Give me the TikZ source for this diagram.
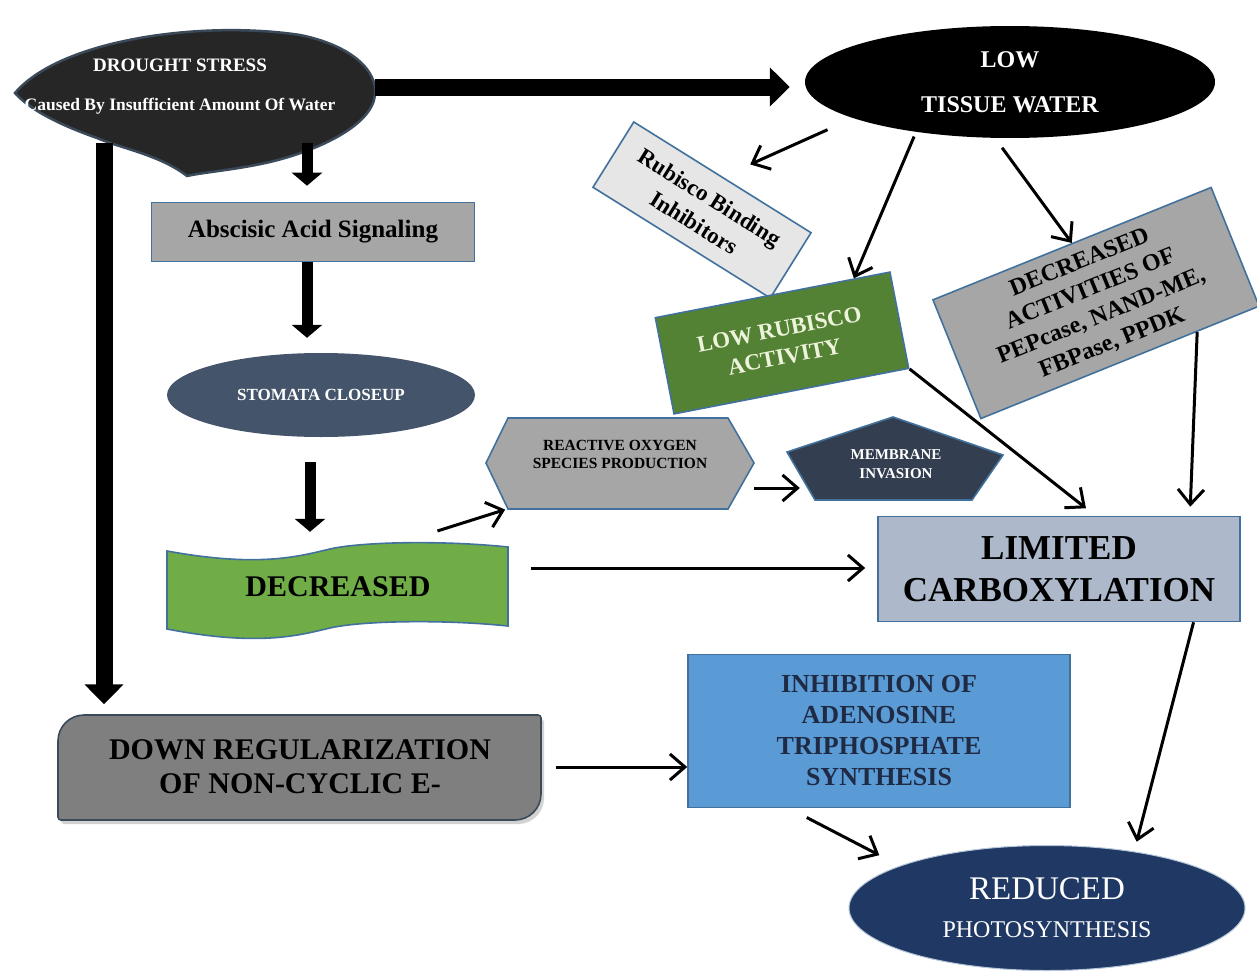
\documentclass[tikz,border=0pt]{standalone}
\usepackage{fontspec}
\setmainfont{Liberation Serif}
\usetikzlibrary{arrows.meta,calc,positioning,shapes.geometric,shadows}
\definecolor{dsink}{HTML}{000000}
\definecolor{dsblue}{HTML}{41719C}
\definecolor{dsedge}{HTML}{3B4A5A}
\definecolor{dsgrey}{HTML}{A6A6A6}
\definecolor{dsdark}{HTML}{262626}
\definecolor{dsslate}{HTML}{44546A}
\definecolor{dsgreen}{HTML}{70AD47}
\definecolor{dsleaf}{HTML}{548235}
\definecolor{dssky}{HTML}{5B9BD5}
\definecolor{dsnavy}{HTML}{203864}
\definecolor{dsmist}{HTML}{ADB9CA}
\definecolor{dsnight}{HTML}{333F50}
\definecolor{dspale}{HTML}{E7E6E6}
\definecolor{dsmid}{HTML}{7F7F7F}
\definecolor{dsdeep}{HTML}{1F2A44}
\definecolor{dscream}{HTML}{EEF3DC}
\newcommand\dssize[2]{\fontsize{#1}{#2}\selectfont}
\tikzset{
  ds plain/.style={inner sep=0pt, align=center},
  ds box/.style={ds plain, draw=dsblue, line width=1.6pt},
  ds oval/.style={ds plain, ellipse},
  ds shape/.style={draw=dsblue, line width=1.6pt},
  ds arrow/.style={-{Straight Barb[length=15pt,width=26pt]}, line width=3pt, draw=dsink},
  ds fat/.style={-{Triangle[length=20pt,width=38pt]}, line width=17pt, draw=dsink},
  ds stub/.style={-{Triangle[length=13pt,width=30pt]}, line width=11pt, draw=dsink}
}
\begin{document}
\begin{tikzpicture}[x=1pt, y=-1pt]
  \fill[white] (0,0) rectangle (1257,974);
  \useasboundingbox (0,0) rectangle (1257,974);
  \filldraw[fill=dsdark, draw=dsedge, line width=2.5pt] (15,93) .. controls (60,40) and (200,20) .. (300,35)
    .. controls (350,45) and (378,70) .. (375,95) .. controls (372,125) and (320,150) .. (270,162)
    .. controls (235,170) and (205,172) .. (187,176) .. controls (160,155) and (120,148) .. (97,138)
    .. controls (60,125) and (30,110) .. (15,93) -- cycle;
  \filldraw[ds shape, fill=dsgreen] (167,551) .. controls (260,568) and (300,556) .. (330,549)
    .. controls (360,542) and (440,540) .. (508,547) -- (508,626) .. controls (440,619) and (360,621) .. (330,628)
    .. controls (300,635) and (260,647) .. (167,629) -- cycle;
  \filldraw[ds shape, fill=dsgrey] (486,463) -- (508,418) -- (728,418) -- (754,463) -- (728,509) -- (508,509) -- cycle;
  \filldraw[ds shape, fill=dsnight] (787,452) -- (893,417) -- (1003,455) -- (972,500) -- (815,500) -- cycle;
  \filldraw[fill=dsmid, draw=dsedge, line width=1.6pt, drop shadow={shadow xshift=3pt, shadow yshift=-4pt, opacity=0.35}]
    (58,767) [rounded corners=26] |- (300,715) [rounded corners=3] -| (541,767)
    [rounded corners=26] |- (300,820) [rounded corners=3] -| (58,767) -- cycle;

  \node[ds plain, text=white, font=\bfseries\dssize{19}{39}, minimum width=390pt, minimum height=112pt] (drought) at (180,87)
    {DROUGHT STRESS\\\dssize{17.5}{39}Caused By Insufficient Amount Of Water};
  \node[ds oval, fill=black, text=white, font=\bfseries\dssize{24}{45}, minimum width=410pt, minimum height=112pt] (water) at (1010,82)
    {LOW\\TISSUE WATER};
  \node[ds box, fill=dsgrey, font=\bfseries\dssize{25}{30}, minimum width=323pt, minimum height=59pt] (absc) at (313,232)
    {Abscisic Acid Signaling};
  \node[ds oval, fill=dsslate, text=white, font=\bfseries\dssize{17}{20}, minimum width=308pt, minimum height=84pt] (stomata) at (321,395)
    {STOMATA CLOSEUP};
  \node[ds plain, font=\bfseries\dssize{30}{34}, minimum width=341pt, minimum height=78pt] (decr) at (338,587) {DECREASED};
  \node[ds plain, font=\bfseries\dssize{30}{34}, minimum width=483pt, minimum height=105pt] (downreg) at (300,767)
    {DOWN REGULARIZATION\\OF NON-CYCLIC E-};
  \node[ds box, fill=dssky, text=dsdeep, font=\bfseries\dssize{26}{31}, minimum width=382pt, minimum height=153pt] (inhib) at (879,731)
    {INHIBITION OF\\ADENOSINE\\TRIPHOSPHATE\\SYNTHESIS};
  \node[ds box, fill=dsmist, font=\bfseries\dssize{35}{42}, minimum width=362pt, minimum height=105pt] (limited) at (1059,569)
    {LIMITED\\CARBOXYLATION};
  \node[ds oval, draw=dsblue!40, line width=1pt, fill=dsnavy, text=white, font=\dssize{33}{38},
    minimum width=396pt, minimum height=125pt] (reduced) at (1047,908)
    {REDUCED\\\dssize{24}{38}PHOTOSYNTHESIS};
  \node[ds plain, minimum width=268pt, minimum height=91pt] (ros) at (620,463) {};
  \node[ds plain, font=\bfseries\dssize{15.5}{18}] (rostext) at ([yshift=9pt]ros.center) {REACTIVE OXYGEN\\SPECIES PRODUCTION};
  \node[ds plain, text=white, font=\bfseries\dssize{15}{19}, minimum width=190pt, minimum height=83pt] (mem) at (896,464)
    {MEMBRANE\\INVASION};
  \node[ds box, fill=dspale, rotate=-32, font=\bfseries\dssize{23}{30}, minimum width=209pt, minimum height=77pt] (binding) at (702,210)
    {Rubisco Binding\\Inhibitors};
  \node[ds box, fill=dsleaf, text=dscream, rotate=11, font=\bfseries\dssize{23}{28}, minimum width=239pt, minimum height=98pt] (lowrub) at (782,343)
    {LOW RUBISCO\\ACTIVITY};
  \node[ds box, fill=dsgrey, rotate=22, font=\bfseries\dssize{24}{29}, minimum width=300pt, minimum height=128pt] (decract) at (1096,303)
    {DECREASED\\ACTIVITIES OF\\PEPcase, NAND-ME,\\FBPase, PPDK};

  \draw[ds fat, shorten >=15pt] (drought.east) -- (drought.east -| water.west);
  \draw[ds fat, shorten >=10pt] ([xshift=-76pt]drought.south) -- ([xshift=-76pt]drought.south |- downreg.north);
  \draw[ds stub, shorten >=16pt] ([xshift=127pt]drought.south) -- ([xshift=127pt]drought.south |- absc.north);
  \draw[ds stub, shorten >=15pt] ([xshift=-6pt]absc.south) -- ([xshift=-6pt]absc.south |- stomata.north);
  \draw[ds stub, shorten <=25pt, shorten >=16pt] ([xshift=-11pt]stomata.south) -- ([xshift=-11pt]stomata.south |- decr.north);
  \draw[ds arrow, shorten <=22pt, shorten >=12pt] ([yshift=19pt]decr.east) -- ([yshift=19pt]decr.east -| limited.west);
  \draw[ds arrow, shorten <=56pt, shorten >=3pt] ([xshift=46pt]decr.north) -- ([xshift=-112pt]ros.south);
  \draw[ds arrow, shorten >=1pt] ([yshift=-25pt]ros.east) -- ([yshift=-25pt]ros.east -| mem.west);
  \draw[ds arrow, shorten <=28pt, shorten >=30pt] (water.193) -- (binding.north);
  \draw[ds arrow, shorten <=5pt] (water.208) -- (lowrub.31);
  \draw[ds arrow, shorten <=12pt] (water.255) -- (decract.north);
  \draw[ds arrow, shorten >=12pt] (lowrub.south east) -- ($(limited.north west)!0.6!(limited.north east)$);
  \draw[ds arrow, shorten >=9pt] ($(decract.south)!0.55!(decract.south east)$) -- ($(limited.north west)!0.86!(limited.north east)$);
  \draw[ds arrow, shorten >=10pt] ($(limited.south)!0.74!(limited.south east)$) -- (reduced.33);
  \draw[ds arrow, shorten <=14pt] (downreg.east) -- (downreg.east -| inhib.west);
  \draw[ds arrow, shorten <=20pt, shorten >=23pt] ([xshift=-90pt]inhib.south) -- (reduced.164);
\end{tikzpicture}
\end{document}
